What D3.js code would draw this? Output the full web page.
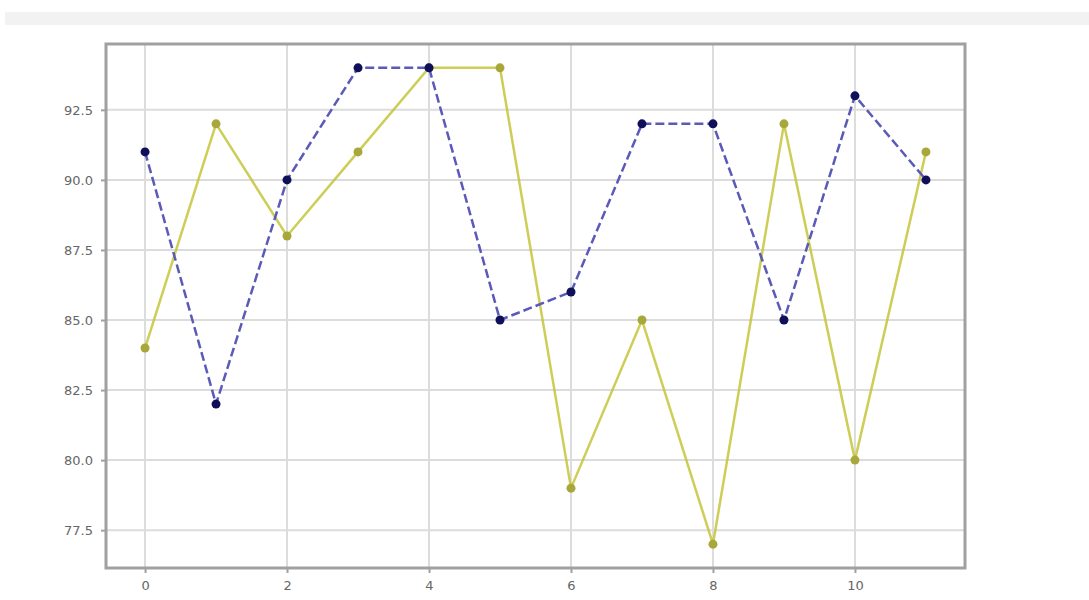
<!DOCTYPE html>
<html><head><meta charset="utf-8">
<script src="https://cdn.jsdelivr.net/npm/d3@7"></script>
<style>body{margin:0;background:#fff}svg{display:block}</style>
</head><body><svg id="c" width="1089" height="600"></svg>
<script>
const xValues = [0,1,2,3,4,5,6,7,8,9,10,11];
const blueSeries = [91,82,90,94,94,85,86,92,92,85,93,90];
const yellowSeries = [84,92,88,91,94,94,79,85,77,92,80,91];
const xTicks = [0,2,4,6,8,10];
const yTicks = [77.5,80.0,82.5,85.0,87.5,90.0,92.5];

const svg = d3.select("#c");
const L=106,R=965,T=44,B=568;
const x = d3.scaleLinear().domain([-0.55,11.55]).range([L,R]);
const y = d3.scaleLinear().domain([76.15,94.85]).range([B,T]);

svg.append("rect").attr("x",5).attr("y",12).attr("width",1084).attr("height",13).attr("fill","#f2f2f2");

const g = svg.append("g");
g.append("g").selectAll("line").data(yTicks).join("line")
 .attr("x1",L).attr("x2",R).attr("y1",d=>y(d)).attr("y2",d=>y(d))
 .attr("stroke","#dcdcdc").attr("stroke-width",2);
g.append("g").selectAll("line").data(xTicks).join("line")
 .attr("y1",T).attr("y2",B).attr("x1",d=>x(d)).attr("x2",d=>x(d))
 .attr("stroke","#dcdcdc").attr("stroke-width",2);

const line = d3.line().x((d,i)=>x(xValues[i])).y(d=>y(d));
g.append("path").datum(yellowSeries).attr("d",line).attr("fill","none")
 .attr("stroke","#c4c43a").attr("stroke-width",2.5).attr("opacity",0.85);
g.selectAll(".ym").data(yellowSeries).join("circle").attr("class","ym")
 .attr("cx",(d,i)=>x(xValues[i])).attr("cy",d=>y(d)).attr("r",4.5).attr("fill","#a8a83a");

g.append("path").datum(blueSeries).attr("d",line).attr("fill","none")
 .attr("stroke","#5a5ab8").attr("stroke-width",2.5).attr("stroke-dasharray","9,4");
g.selectAll(".bm").data(blueSeries).join("circle").attr("class","bm")
 .attr("cx",(d,i)=>x(xValues[i])).attr("cy",d=>y(d)).attr("r",4.5).attr("fill","#10105a");

svg.append("rect").attr("x",L).attr("y",T).attr("width",R-L).attr("height",B-T)
 .attr("fill","none").attr("stroke","#a0a0a0").attr("stroke-width",3);

const xa = svg.append("g").attr("transform",`translate(0,${B})`)
 .call(d3.axisBottom(x).tickValues(xTicks).tickFormat(d3.format("d")).tickSize(5).tickPadding(8));
const ya = svg.append("g").attr("transform",`translate(${L},0)`)
 .call(d3.axisLeft(y).tickValues(yTicks).tickFormat(d3.format(".1f")).tickSize(5).tickPadding(8));
[xa,ya].forEach(a=>{
 a.select(".domain").remove();
 a.selectAll("line").attr("stroke","#a0a0a0").attr("stroke-width",2);
 a.selectAll("text").attr("fill","#666").attr("font-family","DejaVu Sans").attr("font-size",13);
});
</script></body></html>
